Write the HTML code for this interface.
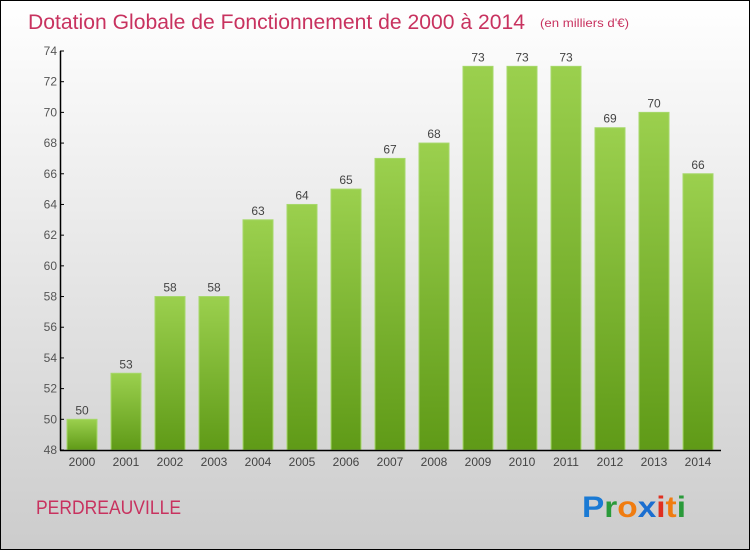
<!DOCTYPE html>
<html><head><meta charset="utf-8"><style>
body{margin:0;width:750px;height:550px;overflow:hidden}
svg{display:block;font-family:"Liberation Sans",sans-serif}
</style></head><body>
<svg id="chart" width="750" height="550">
<defs>
<linearGradient id="bg" x1="0" y1="0" x2="0" y2="1"><stop offset="0" stop-color="#ffffff"/><stop offset="1" stop-color="#cccccc"/></linearGradient>
<linearGradient id="bar" x1="0" y1="0" x2="0" y2="1"><stop offset="0" stop-color="#9bd04e"/><stop offset="1" stop-color="#5f9a17"/></linearGradient>
</defs>
<rect x="0.5" y="0.5" width="749" height="549" fill="url(#bg)" stroke="#000"/>
<text x="28" y="29" font-size="21" fill="#c8325f" textLength="497" lengthAdjust="spacingAndGlyphs">Dotation Globale de Fonctionnement de 2000 à 2014</text>
<text x="540" y="27" font-size="12" fill="#c8325f" textLength="89" lengthAdjust="spacingAndGlyphs">(en milliers d'€)</text>
<text x="36" y="514" font-size="19" fill="#c8325f" textLength="145" lengthAdjust="spacingAndGlyphs">PERDREAUVILLE</text>
<g font-size="30" font-weight="bold" font-family="Liberation Sans, sans-serif">
<text x="582" y="517" textLength="104" lengthAdjust="spacingAndGlyphs"><tspan fill="#1a7ad4">P</tspan><tspan fill="#2a9a3a">r</tspan><tspan fill="#f07c10">o</tspan><tspan fill="#1a6ed0">x</tspan><tspan fill="#e03020">i</tspan><tspan fill="#f07c10">t</tspan><tspan fill="#2a9a3a">i</tspan></text>
</g>
<g id="plot"></g>
</svg>
<script>
const years=["2000","2001","2002","2003","2004","2005","2006","2007","2008","2009","2010","2011","2012","2013","2014"];
const values=[50,53,58,58,63,64,65,67,68,73,73,73,69,70,66];
const yTicks=[48,50,52,54,56,58,60,62,64,66,68,70,72,74];
const NS="http://www.w3.org/2000/svg";
const g=document.getElementById('plot');
const y0=450,y1=51,vmin=48,vmax=74;
const ys=v=>y0-(v-vmin)*(y0-y1)/(vmax-vmin);
const xs=i=>82+i*44;
function mk(t,a){const e=document.createElementNS(NS,t);for(const k in a)e.setAttribute(k,a[k]);g.appendChild(e);return e;}
values.forEach((v,i)=>{
 const b=mk('rect',{x:xs(i)-15,y:ys(v),width:30,height:y0-ys(v),fill:'url(#bar)',stroke:'#a6d86a','stroke-width':1});
 
 
 const l=mk('text',{x:xs(i),y:ys(v)-5,'text-anchor':'middle','font-size':12,fill:'#444'});
 l.textContent=v;
 
 
 const t=mk('text',{x:xs(i),y:466,'text-anchor':'middle','font-size':12,fill:'#444'});
 t.textContent=years[i];
 
 
});
yTicks.forEach(v=>{
 mk('line',{x1:60,x2:64,y1:ys(v),y2:ys(v),stroke:'#000'});
 const t=mk('text',{x:57,y:ys(v)+4,'text-anchor':'end','font-size':12,fill:'#555'});
 t.textContent=v;
 
 
});
const ya=mk('line',{x1:60.5,x2:60.5,y1:51,y2:450.5,stroke:'#000','stroke-width':1.5});


const xa=mk('line',{x1:60,x2:721,y1:450.5,y2:450.5,stroke:'#000','stroke-width':1.5});


</script>
</body></html>
